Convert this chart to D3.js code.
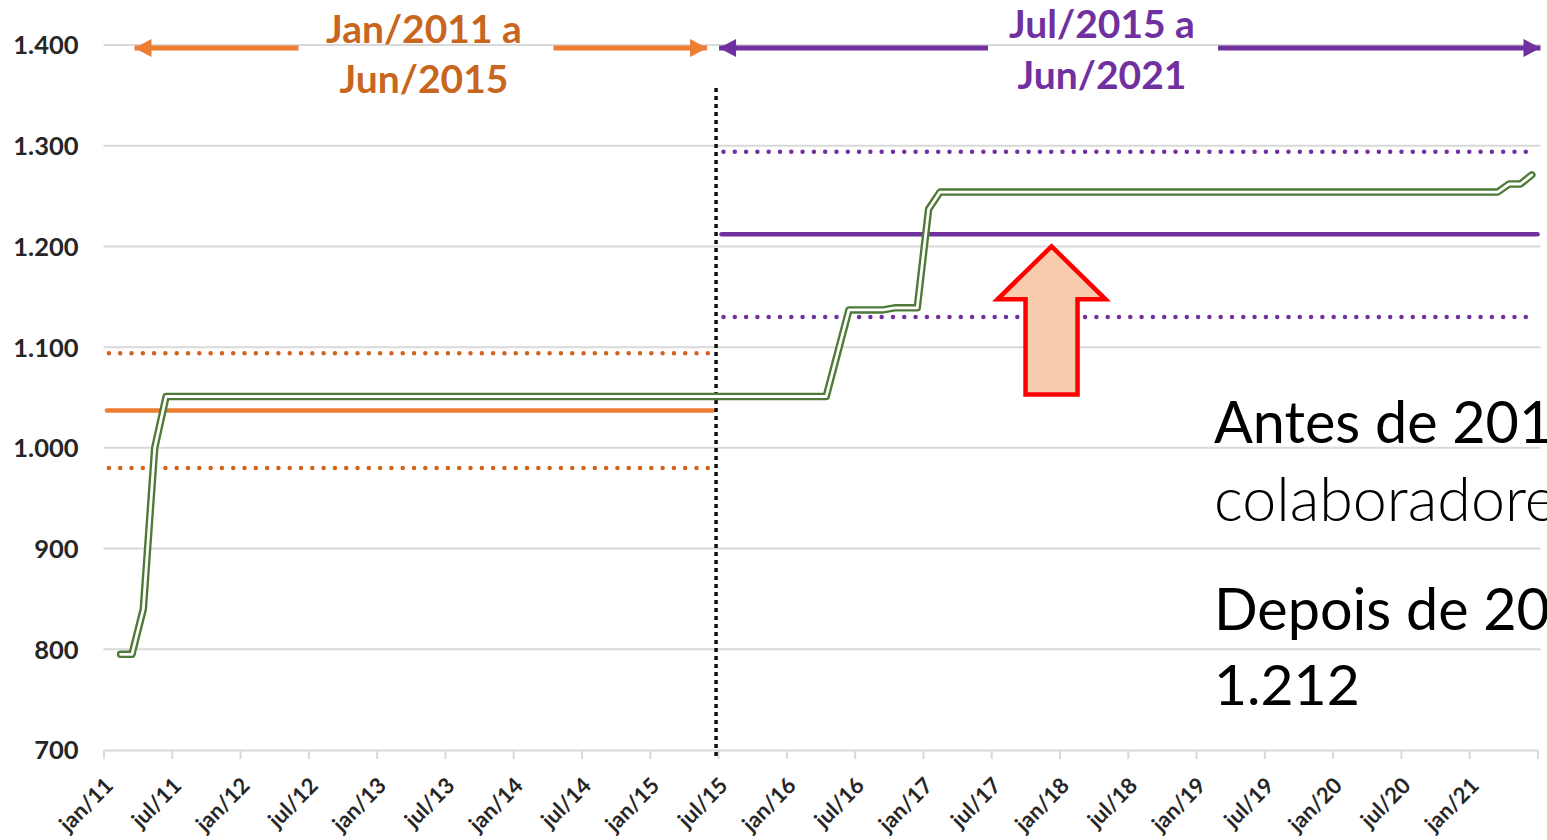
<!DOCTYPE html>
<html><head><meta charset="utf-8">
<script src="https://cdn.jsdelivr.net/npm/d3@7/dist/d3.min.js"></script>
<style>
body{margin:0;background:#fff;overflow:hidden}
svg{display:block;font-family:Lato,"Open Sans",sans-serif}
</style>
</head><body>
<svg id="chart" width="1547" height="840"></svg>
<script>
// ---- DATA ----
// Month index counted from jan/11 (= 0). First value is fev/11.
const startIndex = 1;
const employees = [
  /*2011 fev-dez*/ 795,795,840,1000,1051,1051,1051,1051,1051,1051,1051,
  /*2012*/ 1051,1051,1051,1051,1051,1051,1051,1051,1051,1051,1051,1051,
  /*2013*/ 1051,1051,1051,1051,1051,1051,1051,1051,1051,1051,1051,1051,
  /*2014*/ 1051,1051,1051,1051,1051,1051,1051,1051,1051,1051,1051,1051,
  /*2015*/ 1051,1051,1051,1051,1051,1051,1051,1051,1051,1051,1051,1051,
  /*2016*/ 1051,1051,1051,1051,1094,1137,1137,1137,1137,1139,1139,1139,
  /*2017*/ 1237,1254,1254,1254,1254,1254,1254,1254,1254,1254,1254,1254,
  /*2018*/ 1254,1254,1254,1254,1254,1254,1254,1254,1254,1254,1254,1254,
  /*2019*/ 1254,1254,1254,1254,1254,1254,1254,1254,1254,1254,1254,1254,
  /*2020*/ 1254,1254,1254,1254,1254,1254,1254,1254,1254,1254,1254,1254,
  /*2021 jan-jun*/ 1254,1254,1254,1262,1262,1271
];
const tickLabels = ["jan/11","jul/11","jan/12","jul/12","jan/13","jul/13","jan/14","jul/14",
  "jan/15","jul/15","jan/16","jul/16","jan/17","jul/17","jan/18","jul/18","jan/19","jul/19",
  "jan/20","jul/20","jan/21"];
const yTicks = [700,800,900,1000,1100,1200,1300,1400];

const periodLabels = [["Jan/2011 a","Jun/2015"],["Jul/2015 a","Jun/2021"]];
const periodStart = [0, 54];
const periodEnd   = [54, 126];
const periodMean  = [1037, 1212];
const periodUpper = [1094, 1294];
const periodLower = [980, 1130];

const noteLines = ["Antes de 2015", "colaboradores", "Depois de 2015", "1.212"];

// ---- CHART ----
const svg = d3.select("#chart");
const x = d3.scaleLinear().domain([0,126]).range([103.5,1537.5]);
const y = d3.scaleLinear().domain([700,1400]).range([750,45]);
const loc = d3.formatLocale({decimal:",", thousands:".", grouping:[3], currency:["",""]});
const fmt = loc.format(",d");

const gridC = "#D9D9D9";
// gridlines
svg.append("g").selectAll("line").data(yTicks.filter(v=>v>700)).join("line")
  .attr("x1", x(0)).attr("x2", x(126)+3)
  .attr("y1", d=>y(d)).attr("y2", d=>y(d))
  .attr("stroke", gridC).attr("stroke-width", 2);

// x axis
const xAxis = d3.axisBottom(x)
  .tickValues(d3.range(0,127,6))
  .tickSize(9).tickSizeOuter(0)
  .tickFormat(()=> "");
const gx = svg.append("g").attr("transform",`translate(0,${y(700)})`).call(xAxis);
gx.select(".domain").attr("stroke", gridC).attr("stroke-width", 2);
gx.selectAll(".tick line").attr("stroke", gridC).attr("stroke-width", 2);

svg.append("g").selectAll("text").data(tickLabels).join("text")
  .attr("transform",(d,i)=>`translate(${x(i*6)+11},${y(700)+37}) rotate(-45)`)
  .attr("text-anchor","end")
  .attr("font-size",22).attr("font-weight",700).attr("fill","#262626")
  .text(d=>d);

// y labels
const yAxis = d3.axisLeft(y).tickValues(yTicks).tickSize(0).tickFormat(fmt);
const gy = svg.append("g").attr("transform",`translate(${x(0)-25},0)`).call(yAxis);
gy.select(".domain").remove();
gy.selectAll("text").attr("font-family","Lato").attr("font-size",25.5).attr("font-weight",700)
  .attr("fill","#262626").attr("dy","0.35em").attr("x",0);

// period mean / band lines
const pColors = ["#ED7D31","#7030A0"];
const pDot = ["#D2621C","#7030A0"];
const pOff = [[0.3,-0.45],[0.3,0]];
for (let p=0;p<2;p++){
  const x1 = x(periodStart[p]+pOff[p][0]), x2 = x(periodEnd[p]+pOff[p][1]);
  [periodUpper[p], periodLower[p]].forEach(v=>{
    svg.append("line").attr("x1",x1+2).attr("x2",x2-4).attr("y1",y(v)).attr("y2",y(v))
      .attr("stroke",pDot[p]).attr("stroke-width",4.5).attr("stroke-linecap","round")
      .attr("stroke-dasharray","0 11.3");
  });
  svg.append("line").attr("x1",x1).attr("x2",x2).attr("y1",y(periodMean[p])).attr("y2",y(periodMean[p]))
    .attr("stroke",pColors[p]).attr("stroke-width",4.5).attr("stroke-linecap","round");
}

// vertical divider
svg.append("line").attr("x1",x(54)-2).attr("x2",x(54)-2).attr("y1",88).attr("y2",y(700)+10)
  .attr("stroke","#111").attr("stroke-width",3.5).attr("stroke-dasharray","4 4");

// employee line (double line)
const line = d3.line().x((d,i)=>x(startIndex+i+0.5)).y(d=>y(d));
svg.append("path").datum(employees).attr("d",line).attr("fill","none")
  .attr("stroke","#4E7A37").attr("stroke-width",7.5).attr("stroke-linejoin","round").attr("stroke-linecap","round");
svg.append("path").datum(employees).attr("d",line).attr("fill","none")
  .attr("stroke","#fff").attr("stroke-width",2.8).attr("stroke-linejoin","round").attr("stroke-linecap","round");

// red arrow
const ax = x(83.3), tipY = y(periodMean[1]) + 12, headY = tipY + 53, botY = y(1053);
svg.append("path")
  .attr("d", `M${ax},${tipY} L${ax+54},${headY} L${ax+26},${headY} L${ax+26},${botY} L${ax-26},${botY} L${ax-26},${headY} L${ax-54},${headY} Z`)
  .attr("fill","#F8CBAD").attr("stroke","#FF0000").attr("stroke-width",4.5).attr("stroke-linejoin","miter");

// header arrows and labels
const hdrY = 48;
function arrow(xa, xb, color, head){ // head: "left" or "right"
  svg.append("line").attr("x1",xa).attr("x2",xb).attr("y1",hdrY).attr("y2",hdrY)
    .attr("stroke",color).attr("stroke-width",5);
  const tip = head==="left"? xa : xb, dir = head==="left"? 1 : -1;
  svg.append("path").attr("d",`M${tip},${hdrY} L${tip+dir*17},${hdrY-9} L${tip+dir*17},${hdrY+9} Z`).attr("fill",color);
}
arrow(x(0)+31, x(0)+195, pColors[0], "left");
arrow(x(0)+450, x(54)-11, pColors[0], "right");
arrow(x(54)+1, x(54)+270, pColors[1], "left");
arrow(x(54)+500, x(126)+3, pColors[1], "right");

const hdrColors = ["#C8661E","#7030A0"];
const hdrCx = [424, 1102];
const hdrBase = [[43,93],[38,89]];
for (let p=0;p<2;p++){
  periodLabels[p].forEach((t,k)=>{
    svg.append("text").attr("x",hdrCx[p]).attr("y",hdrBase[p][k]).attr("text-anchor","middle")
      .attr("font-size",39).attr("font-weight",700).attr("fill",hdrColors[p]).text(t);
  });
}

// note text (cut by the right border, as in the original slide)
const noteBase = [443, 521, 630, 705];
const noteSize = [57.5, 61, 57.5, 57];
const noteWeight = [400, 300, 400, 400];
noteLines.forEach((t,i)=>{
  svg.append("text").attr("x",1214).attr("y",noteBase[i])
    .attr("font-size",noteSize[i]).attr("font-weight",noteWeight[i]).attr("fill","#000").text(t);
});
</script>
</body></html>
